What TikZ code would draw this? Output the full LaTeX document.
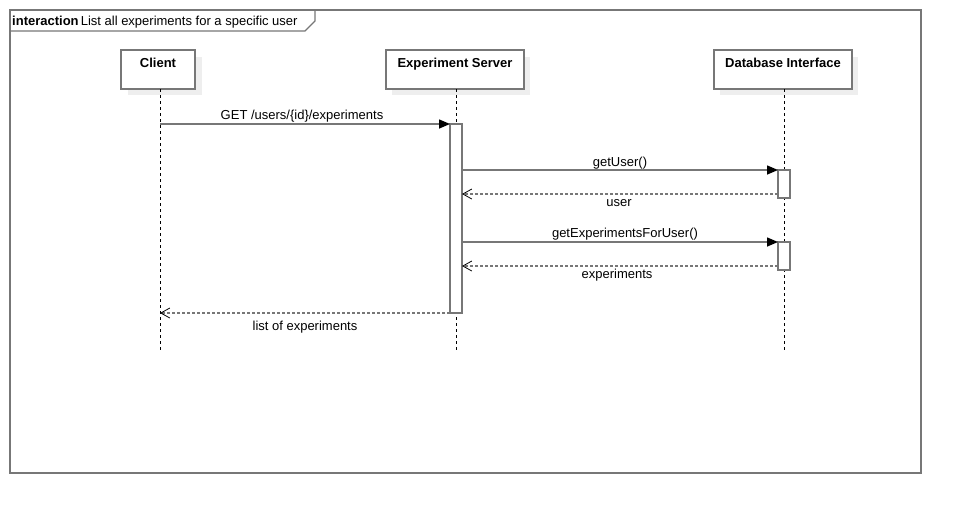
\documentclass[tikz,border=0pt]{standalone}
\usepackage{fontspec}
\setmainfont{Liberation Sans}
\usetikzlibrary{arrows.meta}
\definecolor{edge}{HTML}{777777}
\definecolor{shadowgrey}{HTML}{EEEEEE}
\tikzset{
  lbl/.style={font=\fontsize{13}{15}\selectfont, inner sep=0pt},
  headbox/.style={draw=edge, line width=1.5pt, fill=white, anchor=north west, inner sep=0pt, outer sep=0pt},
  headtxt/.style={font=\fontsize{13}{15}\selectfont\bfseries, inner sep=0pt},
  lifeline/.style={black, line width=0.8pt, dash pattern=on 3pt off 3pt},
  actbox/.style={draw=edge, line width=1.5pt, fill=white, inner sep=0pt, outer sep=0pt, anchor=north, minimum width=12pt},
  syncmsg/.style={edge, line width=1.5pt, -{Triangle[length=11pt,width=9pt,fill=black,color=black]}},
  replymsg/.style={edge, line width=1.5pt, dash pattern=on 3pt off 2pt, -{Straight Barb[length=9pt,width=10pt,line width=0.8pt,color=black]}},
}
\begin{document}
\begin{tikzpicture}[x=1pt,y=-1pt]
\useasboundingbox (0,0) rectangle (962,514);

% interaction frame and its title tab
\draw[edge, line width=1.5pt] (10,10) rectangle (921,473);
\draw[edge, line width=1.2pt] (10,31) -- (305,31) -- (315,21) -- (315,10);
\node[lbl, anchor=base west] (title) at (12,25) {\textbf{interaction}\,List all experiments for a specific user};

% lifeline heads with their shadows
\fill[shadowgrey] (128,57) rectangle (202,95);
\fill[shadowgrey] (392,57) rectangle (530,95);
\fill[shadowgrey] (720,57) rectangle (858,95);
\node[headbox, minimum width=74pt, minimum height=39pt] (client) at (121,50) {};
\node[headbox, minimum width=138pt, minimum height=39pt] (server) at (386,50) {};
\node[headbox, minimum width=138pt, minimum height=39pt] (db) at (714,50) {};
\node[headtxt, anchor=base] (clientname) at (158,67) {Client};
\node[headtxt, anchor=base] (servername) at (455,67) {Experiment Server};
\node[headtxt, anchor=base] (dbname) at (783,67) {Database Interface};

% lifelines
\coordinate (clientend) at (160,350);
\coordinate (serverend) at (456,350);
\coordinate (dbend) at (784,350);
\draw[lifeline] (160,89) -- (clientend);
\draw[lifeline] (456,89) -- (serverend);
\draw[lifeline] (784,89) -- (dbend);

% activation bars
\node[actbox, minimum height=189pt] (actS) at (456,124) {};
\node[actbox, minimum height=28pt] (actD1) at (784,170) {};
\node[actbox, minimum height=28pt] (actD2) at (784,242) {};

% message end points on the client lifeline
\coordinate (c1) at (clientend |- actS.north);
\coordinate (c2) at (clientend |- actS.south);

% messages
\draw[syncmsg] (c1) -- (actS.north west);
\node[lbl, anchor=base] (m1) at (302,119) {GET /users/\{id\}/experiments};

\draw[syncmsg] (actS.east |- actD1.north) -- (actD1.north west);
\node[lbl, anchor=base] (m2) at (620,166) {getUser()};
\draw[replymsg] (actD1.west |- 0,194) -- (actS.east |- 0,194);
\node[lbl, anchor=base] (m3) at (619,206) {user};

\draw[syncmsg] (actS.east |- actD2.north) -- (actD2.north west);
\node[lbl, anchor=base] (m4) at (625,237) {getExperimentsForUser()};
\draw[replymsg] (actD2.west |- 0,266) -- (actS.east |- 0,266);
\node[lbl, anchor=base] (m5) at (617,278) {experiments};

\draw[replymsg] (actS.south west) -- (c2);
\node[lbl, anchor=base] (m6) at (305,330) {list of experiments};
\end{tikzpicture}
\end{document}
